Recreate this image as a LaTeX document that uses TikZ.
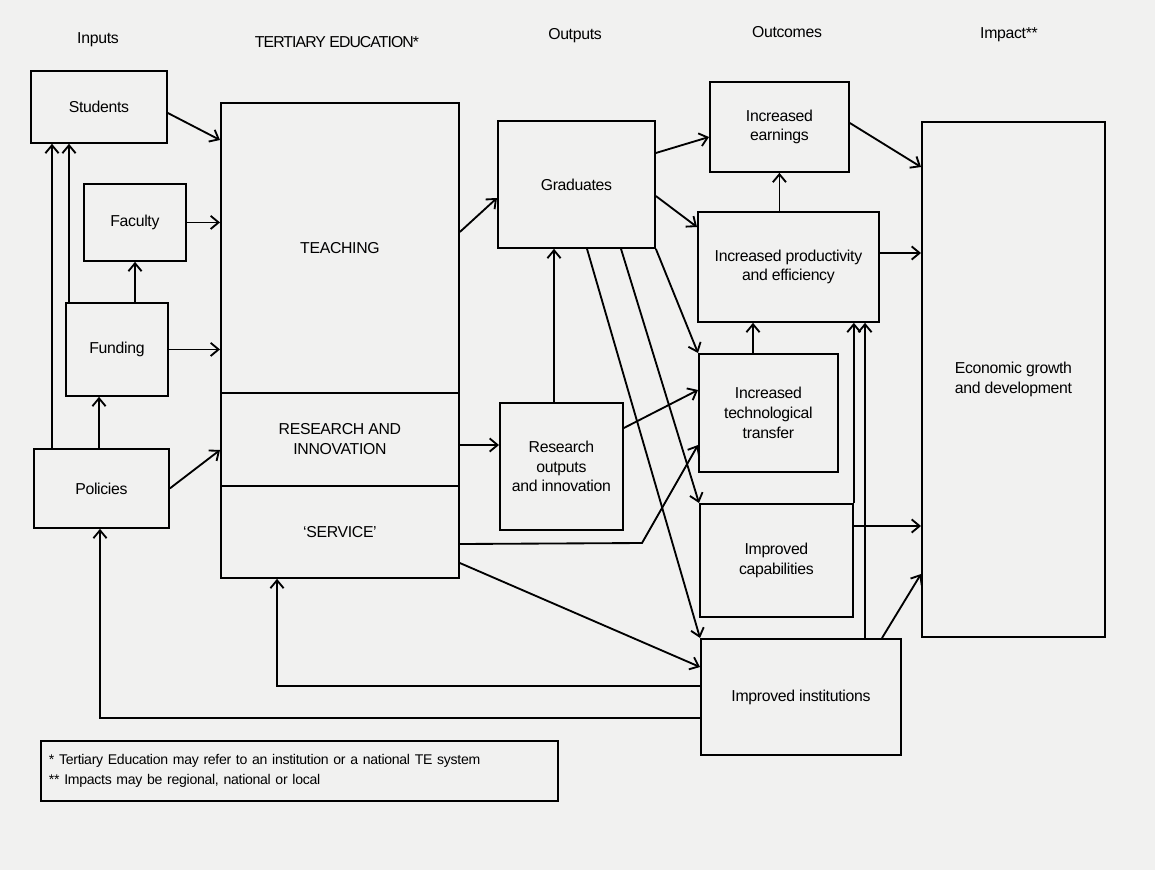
\documentclass[tikz,border=0pt]{standalone}
\usepackage{fontspec}
\setmainfont{Liberation Sans}[LetterSpace=-2]
\usetikzlibrary{arrows.meta}

\definecolor{paper}{RGB}{241,241,240}
\tikzset{
  blk/.style 2 args={draw, line width=1.05pt, anchor=north west, align=center,
    minimum width=#1*0.2mm, minimum height=#2*0.2mm, inner sep=0pt,
    font=\fontsize{9}{11.3}\selectfont},
  hd/.style={font=\fontsize{9}{11}\selectfont},
  flow/.style={line width=1.05pt, -{Straight Barb[length=4.5pt,width=7.5pt]}}
}

\begin{document}
\begin{tikzpicture}[x=0.2mm,y=-0.2mm]
\fill[paper] (0,0) rectangle (1155,870);
\useasboundingbox (0,0) rectangle (1155,870);

\node[hd] (hin) at (98,40) {Inputs};
\node[hd] (hte) at (337,42) {\addfontfeature{LetterSpace=-6}TERTIARY EDUCATION*};
\node[hd] (hout) at (575,36) {Outputs};
\node[hd] (hoc) at (787,32) {Outcomes};
\node[hd] (himp) at (1009,35) {Impact**};

\node[blk={136}{72}] (students) at (30,70) {Students};
\node[blk={102}{77}] (faculty) at (83,183) {Faculty};
\node[blk={102}{93}] (funding) at (65,302) {Funding};
\node[blk={135}{79}] (policies) at (33,448) {Policies};

\node[blk={238}{290}] (teach) at (220,102) {TEACHING};
\node[blk={238}{93}] (research) at (220,392) {RESEARCH AND\\INNOVATION};
\node[blk={238}{92}] (service) at (220,485) {`SERVICE'};

\node[blk={157}{127}] (grads) at (497,120) {Graduates};
\node[blk={123}{127}] (resout) at (499,402) {Research\\outputs\\and innovation};

\node[blk={139}{90}] (earn) at (709,81) {Increased\\earnings};
\node[blk={181}{110}] (prod) at (697,211) {Increased productivity\\and efficiency};
\node[blk={139}{118}] (tech) at (698,353) {Increased\\technological\\transfer};
\node[blk={153}{113}] (capab) at (699,503) {Improved\\capabilities};
\node[blk={200}{116}] (inst) at (700,638) {Improved institutions};

\node[blk={183}{515}] (econ) at (921,121) {Economic growth\\and development};

\node[draw, line width=1.05pt, anchor=north west, align=left, text width=100.2mm,
  inner xsep=1.6mm, minimum height=12mm, font=\fontsize{8}{11.3}\selectfont]
  (note) at (40,740) {* Tertiary Education may refer to an institution or a national TE system\\{}%
  ** Impacts may be regional, national or local};

\draw[flow] (students.east |- 0,113) -- (teach.west |- 0,140);
\draw[flow] (faculty.east) -- (teach.west |- faculty.east);
\draw[flow] (funding.east) -- (teach.west |- funding.east);
\draw[flow] (policies.east) -- (research.west |- 0,450);
\draw[flow] (funding.north -| 135,0) -- (faculty.south -| 135,0);
\draw[flow] (policies.north -| 99,0) -- (funding.south -| 99,0);
\draw[flow] (policies.north -| 52,0) -- (students.south -| 52,0);
\draw[flow] (funding.north -| 69,0) -- (students.south -| 69,0);

\draw[flow] (teach.east |- 0,232) -- (grads.west |- 0,198);
\draw[flow] (research.east |- 0,445) -- (resout.west |- 0,445);
\draw[flow] (resout.north -| 554,0) -- (grads.south -| 554,0);
\draw[flow] (service.east |- 0,544) -- (642,543) -- (tech.west |- 0,445);
\draw[flow] (service.east |- 0,563) -- (inst.west |- 0,667);

\draw[flow] (grads.east |- 0,153) -- (earn.west |- 0,137);
\draw[flow] (grads.east |- 0,196) -- (prod.west |- 0,227);
\draw[flow] (grads.south east) -- (tech.north west);
\draw[flow] (grads.south -| 621,0) -- (capab.north west);
\draw[flow] (grads.south -| 587,0) -- (inst.north west);
\draw[flow] (resout.east |- 0,428) -- (tech.west |- 0,390);

\draw[flow] (earn.south |- prod.north) -- (earn.south);
\draw[flow] (tech.north -| 753,0) -- (prod.south -| 753,0);
\draw[flow] (capab.north east) -- (prod.south -| capab.north east);
\draw[flow] (inst.north -| 865,0) -- (prod.south -| 865,0);

\draw[flow] (earn.east |- 0,123) -- (econ.west |- 0,167);
\draw[flow] (prod.east |- 0,253) -- (econ.west |- 0,253);
\draw[flow] (capab.east |- 0,526) -- (econ.west |- 0,526);
\draw[flow] (inst.north -| 882,0) -- (econ.west |- 0,574);

\draw[flow] (inst.west |- 0,686) -| (service.south -| 277,0);
\draw[flow] (inst.west |- 0,718) -| (policies.south -| 100,0);
\end{tikzpicture}
\end{document}
